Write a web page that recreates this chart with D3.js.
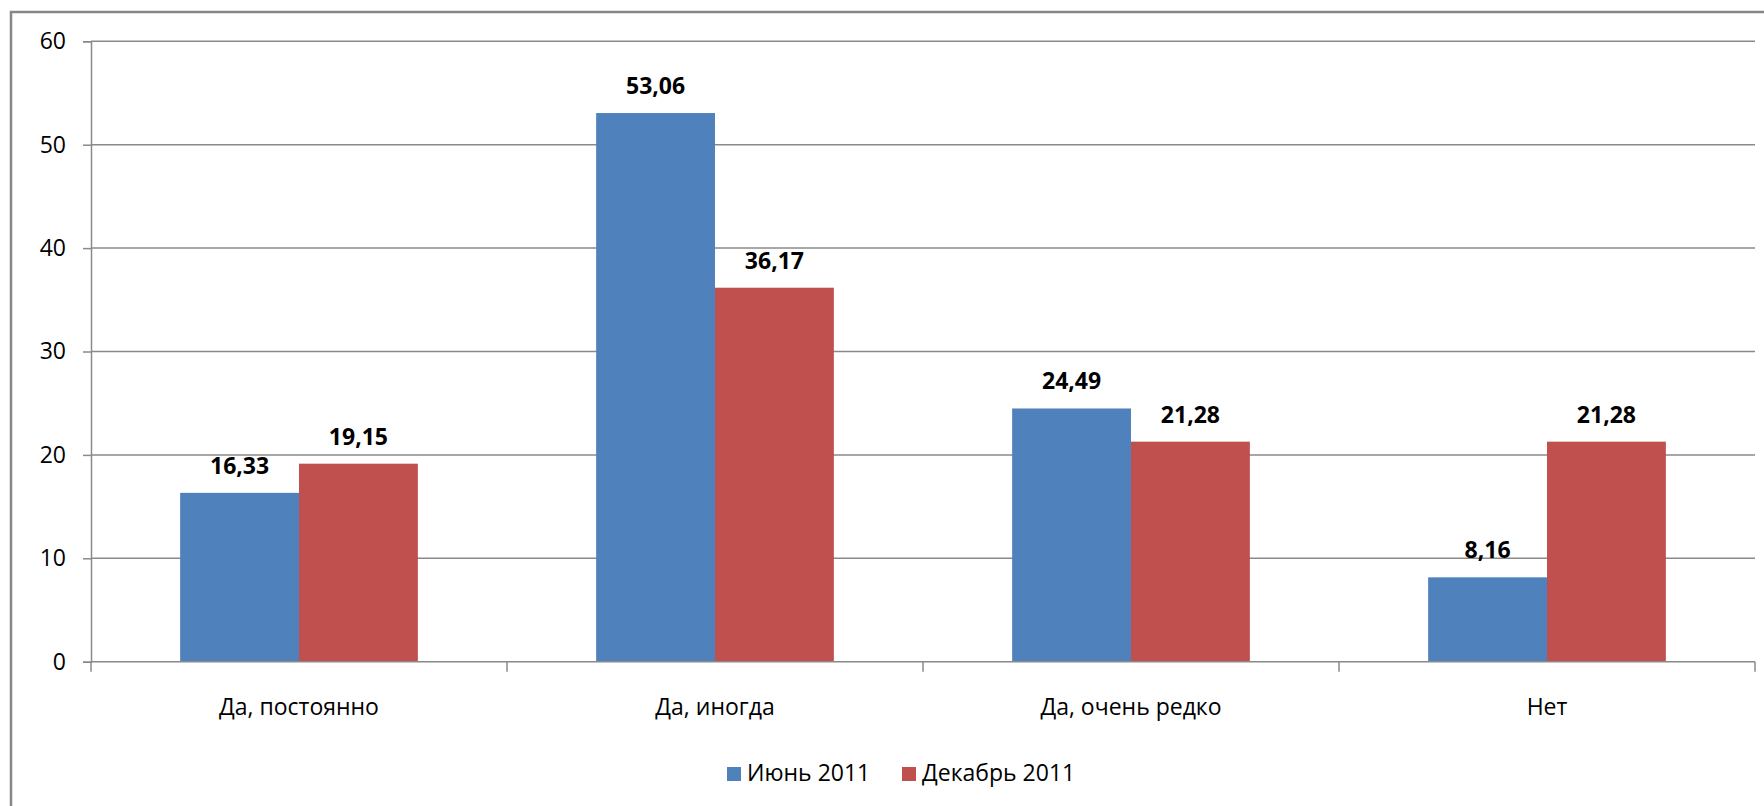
<!DOCTYPE html>
<html><head><meta charset="utf-8">
<script src="https://cdn.jsdelivr.net/npm/d3@7"></script>
<style>
html,body{margin:0;padding:0;background:#fff;}
svg{display:block;}
text{font-family:"Open Sans","Noto Sans",sans-serif;fill:#000;}
</style></head>
<body>
<svg id="chart" width="1764" height="806"></svg>
<script>
const categories = ["Да, постоянно", "Да, иногда", "Да, очень редко", "Нет"];
const seriesNames = ["Июнь 2011", "Декабрь 2011"];
const june = [16.33, 53.06, 24.49, 8.16];
const december = [19.15, 36.17, 21.28, 21.28];
const yTicks = [0, 10, 20, 30, 40, 50, 60];
const colors = ["#4F81BD", "#C0504D"];

const seriesValues = [june, december];
const svg = d3.select("#chart");

// outer frame (cropped at right and bottom)
svg.append("path")
  .attr("d", "M11,806 L11,12 L1764,12")
  .attr("fill", "none").attr("stroke", "#878787").attr("stroke-width", 2.5);

const plotLeft = 91, plotRight = 1755, plotTop = 41.3, plotBottom = 661.7;
const y = d3.scaleLinear().domain([0, 60]).range([plotBottom, plotTop]);
const x0 = d3.scaleBand().domain(categories).range([plotLeft, plotRight]).padding(0);
const x1 = d3.scaleBand().domain(seriesNames).range([0, x0.bandwidth()])
  .paddingInner(0).paddingOuter(0.75);

// gridlines
svg.append("g").selectAll("line").data(yTicks.filter(d => d > 0)).join("line")
  .attr("x1", plotLeft).attr("x2", plotRight)
  .attr("y1", d => y(d)).attr("y2", d => y(d))
  .attr("stroke", "#8a8a8a").attr("stroke-width", 1.5);

// y axis
const yAxis = d3.axisLeft(y).tickValues(yTicks).tickSize(8).tickPadding(17)
  .tickFormat(d3.format("d"));
const gy = svg.append("g").attr("transform", `translate(${plotLeft},0)`).call(yAxis);
gy.select(".domain").attr("stroke", "#8a8a8a").attr("stroke-width", 1.5);
gy.selectAll(".tick line").attr("stroke", "#8a8a8a").attr("stroke-width", 1.5);
gy.selectAll(".tick text").attr("font-size", "23px")
  .attr("font-family", "'Open Sans','Noto Sans',sans-serif").attr("fill", "#000");

// bars
const groups = svg.append("g").selectAll("g").data(categories).join("g")
  .attr("transform", d => `translate(${x0(d)},0)`);
groups.selectAll("rect")
  .data((c, i) => seriesNames.map((s, j) => ({s, v: seriesValues[j][i], j})))
  .join("rect")
  .attr("x", d => x1(d.s))
  .attr("width", x1.bandwidth())
  .attr("y", d => y(d.v))
  .attr("height", d => y(0) - y(d.v))
  .attr("fill", d => colors[d.j]);

// data labels
const fmt = v => d3.format(".2f")(v).replace(".", ",");
groups.selectAll("text.lbl")
  .data((c, i) => seriesNames.map((s, j) => ({s, v: seriesValues[j][i], j})))
  .join("text").attr("class", "lbl")
  .attr("x", d => x1(d.s) + x1.bandwidth() / 2)
  .attr("y", d => y(d.v) - 19)
  .attr("text-anchor", "middle")
  .attr("font-size", "23px").attr("font-weight", "bold")
  .text(d => fmt(d.v));

// x axis
const xAxis = d3.axisBottom(x0).tickSize(0).tickPadding(0);
const gx = svg.append("g").attr("transform", `translate(0,${plotBottom})`).call(xAxis);
gx.select(".domain").attr("stroke", "#8a8a8a").attr("stroke-width", 1.5)
  .attr("d", `M${plotLeft},0H${plotRight}`);
gx.selectAll(".tick text").attr("font-size", "23px").attr("y", 53.5).attr("dy", 0)
  .attr("font-family", "'Open Sans','Noto Sans',sans-serif").attr("fill", "#000");
// boundary tick marks
const bounds = categories.map(c => x0(c)).concat([plotRight]);
gx.append("g").selectAll("line").data(bounds).join("line")
  .attr("x1", d => d).attr("x2", d => d).attr("y1", 0).attr("y2", 10)
  .attr("stroke", "#8a8a8a").attr("stroke-width", 1.5);

// legend
const legend = svg.append("g");
const legendItems = [{x: 727, tx: 747}, {x: 902, tx: 922}];
seriesNames.forEach((s, j) => {
  legend.append("rect").attr("x", legendItems[j].x).attr("y", 767)
    .attr("width", 14).attr("height", 14).attr("fill", colors[j]);
  legend.append("text").attr("x", legendItems[j].tx).attr("y", 781)
    .attr("font-size", "23px").text(s);
});
</script>
</body></html>
